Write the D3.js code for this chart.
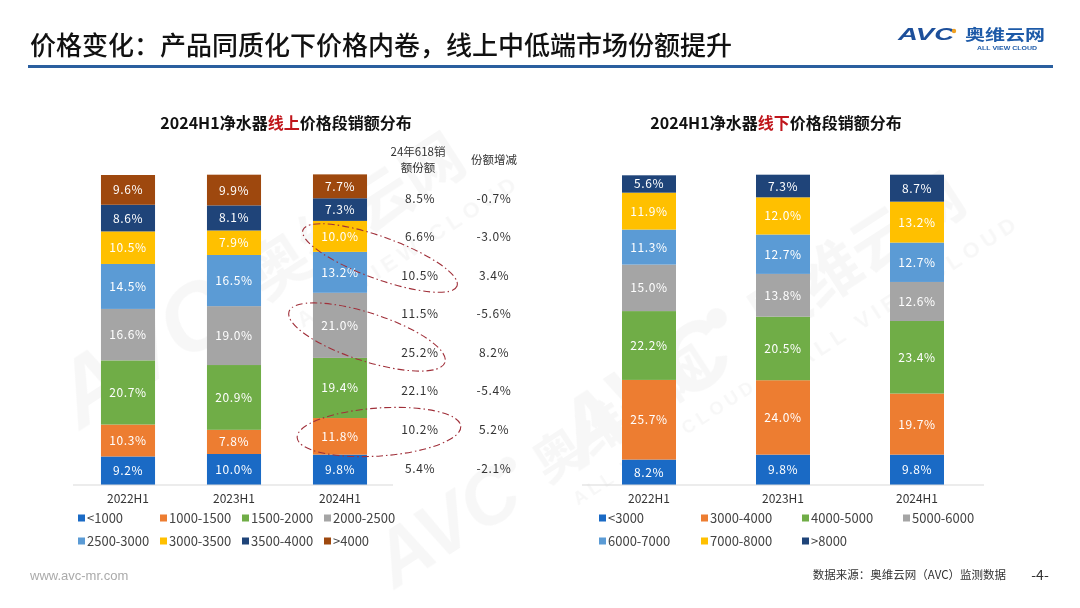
<!DOCTYPE html>
<html><head><meta charset="utf-8">
<script src="https://cdn.jsdelivr.net/npm/d3@7"></script>
<style>
html,body{margin:0;padding:0;background:#fff;}
svg{display:block;font-family:"Noto Sans CJK SC","Noto Sans",sans-serif;}
</style></head>
<body><svg id="c" width="1080" height="608"></svg>
<script>
// ---------- data ----------
const categories = ["2022H1","2023H1","2024H1"];
const onlineSeries = ["<1000","1000-1500","1500-2000","2000-2500","2500-3000","3000-3500","3500-4000",">4000"];
const online2022 = [9.2,10.3,20.7,16.6,14.5,10.5,8.6,9.6];
const online2023 = [10.0,7.8,20.9,19.0,16.5,7.9,8.1,9.9];
const online2024 = [9.8,11.8,19.4,21.0,13.2,10.0,7.3,7.7];
const offlineSeries = ["<3000","3000-4000","4000-5000","5000-6000","6000-7000","7000-8000",">8000"];
const offline2022 = [8.2,25.7,22.2,15.0,11.3,11.9,5.6];
const offline2023 = [9.8,24.0,20.5,13.8,12.7,12.0,7.3];
const offline2024 = [9.8,19.7,23.4,12.6,12.7,13.2,8.7];
// table (top row = >4000 ... bottom row = <1000)
const share618 = ["8.5%","6.6%","10.5%","11.5%","25.2%","22.1%","10.2%","5.4%"];
const shareChange = ["-0.7%","-3.0%","3.4%","-5.6%","8.2%","-5.4%","5.2%","-2.1%"];

const colors = ["#1a6ac5","#ed7d31","#70ad47","#a5a5a5","#5b9bd5","#ffc000","#1f4479","#9e480e"];

const svg = d3.select("#c");

// ---------- watermarks ----------
const wm = svg.append("g").attr("fill","#000").attr("opacity",0.035).attr("font-weight","bold");
function watermark(x,y,s){
  const g = wm.append("g").attr("transform",`translate(${x},${y}) rotate(-33) scale(${s})`);
  g.append("text").attr("x",0).attr("y",0).attr("font-size",110).attr("font-style","italic").attr("font-family","Liberation Sans, sans-serif").text("AVC");
  g.append("circle").attr("cx",232).attr("cy",-62).attr("r",12);
  g.append("text").attr("x",265).attr("y",-8).attr("font-size",72).text("奥维云网");
  g.append("text").attr("x",285).attr("y",42).attr("font-size",26).attr("letter-spacing",6).attr("font-family","Liberation Sans, sans-serif").text("ALL VIEW CLOUD");
}
watermark(80,430,0.85);
watermark(580,470,0.85);
watermark(395,590,0.7);

// ---------- header ----------
svg.append("text").attr("x",30).attr("y",55).attr("font-size",26).attr("font-weight",500)
  .attr("fill","#111").text("价格变化：产品同质化下价格内卷，线上中低端市场份额提升");
svg.append("line").attr("x1",28).attr("x2",1053).attr("y1",66.5).attr("y2",66.5)
  .attr("stroke","#2a5f9f").attr("stroke-width",3);
// logo
svg.append("text").attr("x",898).attr("y",40).attr("font-size",17).attr("font-weight","bold")
  .attr("font-family","Liberation Sans, sans-serif").attr("font-style","italic")
  .attr("textLength",56).attr("lengthAdjust","spacingAndGlyphs").attr("fill","#1d4f9a").text("AVC");
svg.append("circle").attr("cx",954).attr("cy",31).attr("r",2.2).attr("fill","#f0a020");
svg.append("text").attr("x",965).attr("y",40).attr("font-size",15).attr("font-weight","bold")
  .attr("textLength",80).attr("lengthAdjust","spacingAndGlyphs").attr("fill","#1d5aa8").text("奥维云网");
svg.append("text").attr("x",977).attr("y",50).attr("font-size",6).attr("font-weight","bold")
  .attr("font-family","Liberation Sans, sans-serif")
  .attr("textLength",60).attr("lengthAdjust","spacingAndGlyphs").attr("fill","#1d5aa8").text("ALL VIEW CLOUD");

// ---------- chart builder ----------
function drawChart(opt){
  const {series, values, x0, x1, padding, title, cx} = opt;
  const x = d3.scaleBand().domain(categories).range([x0,x1]).paddingInner(padding).paddingOuter(padding/2);
  const y = d3.scaleLinear().domain([0,100]).range([485,175]);
  const rows = categories.map((c,i)=>{ const o={cat:c}; series.forEach((s,j)=>o[s]=values[i][j]); return o; });
  const stack = d3.stack().keys(series)(rows);
  const g = svg.append("g");
  // title
  const t = g.append("text").attr("x",cx).attr("y",129).attr("text-anchor","middle")
    .attr("font-size",16).attr("font-weight","bold").attr("fill","#111");
  t.append("tspan").text(title[0]);
  t.append("tspan").attr("fill","#c0151b").text(title[1]);
  t.append("tspan").text(title[2]);
  // bars
  stack.forEach((layer,j)=>{
    layer.forEach(d=>{
      g.append("rect").attr("x",x(d.data.cat)).attr("width",x.bandwidth())
        .attr("y",y(d[1])).attr("height",y(d[0])-y(d[1])).attr("fill",colors[j]);
      g.append("text").attr("x",x(d.data.cat)+x.bandwidth()/2).attr("y",(y(d[0])+y(d[1]))/2+4.5)
        .attr("text-anchor","middle").attr("font-size",12).attr("fill","#fff").attr("letter-spacing",0.6)
        .text((d[1]-d[0]).toFixed(1)+"%");
    });
  });
  // axis
  const ax = g.append("g").attr("transform","translate(0,485)").call(d3.axisBottom(x).tickSize(0).tickPadding(9));
  ax.select(".domain").attr("stroke","#d9d9d9").attr("d",`M${opt.ax0},0H${opt.ax1}`);
  ax.selectAll("text").attr("font-size",12).attr("fill","#333").attr("font-family","Noto Sans CJK SC, sans-serif");
  // legend
  series.forEach((s,j)=>{
    const col = j % 4, row = Math.floor(j/4);
    const lx = opt.legX[col], ly = 518 + row*23;
    g.append("rect").attr("x",lx-3).attr("y",ly-3.5).attr("width",7).attr("height",7).attr("fill",colors[j]);
    g.append("text").attr("x",lx+6).attr("y",ly+4.5).attr("font-size",13).attr("fill","#444").text(s);
  });
  return {x,y};
}

drawChart({series:onlineSeries, values:[online2022,online2023,online2024], x0:75, x1:393, padding:0.49,
  title:["2024H1净水器","线上","价格段销额分布"], cx:286, ax0:73, ax1:393, legX:[81,163,245,327]});
drawChart({series:offlineSeries, values:[offline2022,offline2023,offline2024], x0:582, x1:984, padding:0.597,
  title:["2024H1净水器","线下","价格段销额分布"], cx:776, ax0:582, ax1:984, legX:[602,704,805,906]});

// ---------- table ----------
const tg = svg.append("g").attr("font-size",12).attr("fill","#333").attr("text-anchor","middle");
tg.append("text").attr("x",418).attr("y",156).attr("font-size",11.5).text("24年618销");
tg.append("text").attr("x",418).attr("y",172).attr("font-size",11.5).text("额份额");
tg.append("text").attr("x",494).attr("y",164).attr("font-size",11.5).text("份额增减");
const ry = d3.scalePoint().domain(d3.range(share618.length)).range([198,468]);
share618.forEach((v,i)=>{
  tg.append("text").attr("x",420).attr("y",ry(i)+4.5).attr("letter-spacing",0.6).text(v);
  tg.append("text").attr("x",494).attr("y",ry(i)+4.5).attr("letter-spacing",0.6).text(shareChange[i]);
});
// dash-dot ellipses
const el = svg.append("g").attr("fill","none").attr("stroke","#a0303a").attr("stroke-width",1.1)
  .attr("stroke-dasharray","7,3,1.5,3");
el.append("ellipse").attr("cx",380).attr("cy",258).attr("rx",82).attr("ry",21).attr("transform","rotate(20,380,258)");
el.append("ellipse").attr("cx",367).attr("cy",337).attr("rx",82).attr("ry",24).attr("transform","rotate(18,367,337)");
el.append("ellipse").attr("cx",379).attr("cy",432).attr("rx",82).attr("ry",24).attr("transform","rotate(-4,379,432)");

// ---------- footer ----------
svg.append("text").attr("x",30).attr("y",580).attr("font-size",13).attr("fill","#aaa")
  .attr("font-family","Liberation Sans, sans-serif").text("www.avc-mr.com");
svg.append("text").attr("x",1006).attr("y",579).attr("text-anchor","end").attr("font-size",11.5).attr("fill","#333")
  .text("数据来源：奥维云网（AVC）监测数据");
svg.append("text").attr("x",1040).attr("y",580).attr("text-anchor","middle").attr("font-size",14).attr("fill","#333")
  .text("-4-");
</script></body></html>
